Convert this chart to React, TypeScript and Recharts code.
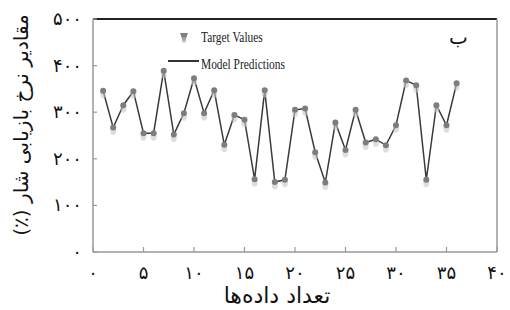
import { LineChart, Line, XAxis, YAxis, ReferenceLine, Label } from 'recharts';

const sampleNumbers = [
  1, 2, 3, 4, 5, 6, 7, 8, 9, 10, 11, 12, 13, 14, 15, 16, 17, 18,
  19, 20, 21, 22, 23, 24, 25, 26, 27, 28, 29, 30, 31, 32, 33, 34, 35, 36,
];
const targetValues = [
  346, 267, 315, 345, 255, 255, 389, 252, 298, 373, 298, 347, 230, 294, 284, 156, 347, 150,
  155, 305, 308, 214, 149, 278, 219, 305, 235, 242, 229, 272, 368, 358, 155, 315, 272, 362,
];
const modelPredictions = [
  346, 267, 315, 345, 255, 255, 389, 252, 298, 373, 298, 347, 230, 294, 284, 156, 347, 150,
  155, 305, 308, 214, 149, 278, 219, 305, 235, 242, 229, 272, 368, 358, 155, 315, 272, 362,
];
const xTicks = [0, 5, 10, 15, 20, 25, 30, 35, 40];
const yTicks = [0, 100, 200, 300, 400, 500];

const chartData = sampleNumbers.map((n, i) => ({
  n,
  target: targetValues[i],
  model: modelPredictions[i],
}));

const faDigits = '۰۱۲۳۴۵۶۷۸۹';
const toPersian = (v: number) => String(v).replace(/\d/g, (d) => faDigits[Number(d)]);

const faFont = '"DejaVu Sans", sans-serif';
const enFont = '"Liberation Serif", serif';

function XTick({ x, y, payload }: any) {
  return (
    <g>
      <line x1={x} y1={y - 8} x2={x} y2={y - 13} stroke="#999" strokeWidth={1.2} />
      <text x={x} y={y + 19} textAnchor="middle" fontFamily={faFont} fontSize={18} fill="#111">
        {toPersian(payload.value)}
      </text>
    </g>
  );
}

function YTick({ x, y, payload }: any) {
  return (
    <g>
      <line x1={x + 8} y1={y} x2={x + 12} y2={y} stroke="#999" strokeWidth={1.2} />
      <text
        x={x - 3}
        y={y + 6}
        textAnchor="end"
        fontFamily={faFont}
        fontSize={18}
        letterSpacing={1.5}
        fill="#111"
      >
        {toPersian(payload.value)}
      </text>
    </g>
  );
}

function TargetDot({ cx, cy }: any) {
  if (cx == null || cy == null) return null;
  return (
    <g>
      <ellipse cx={cx} cy={cy + 3} rx={3} ry={4.5} fill="#c8c8c8" opacity={0.6} />
      <circle cx={cx} cy={cy} r={3} fill="#7d7d7d" />
    </g>
  );
}

export default function App() {
  return (
    <div style={{ position: 'absolute', left: 0, top: 0, width: 510, height: 310, background: '#fff' }}>
      <LineChart
        width={510}
        height={310}
        data={chartData}
        margin={{ top: 19, right: 13, left: 0, bottom: 0 }}
      >
        <XAxis
          dataKey="n"
          type="number"
          domain={[0, 40]}
          ticks={xTicks}
          height={58}
          tickLine={false}
          axisLine={{ stroke: '#999', strokeWidth: 1.5 }}
          tick={<XTick />}
          interval={0}
        >
          <Label
            content={() => (
              <text
                x={277}
                y={303}
                textAnchor="middle"
                direction="rtl"
                fontFamily={faFont}
                fontSize={22}
                fill="#111"
              >
                تعداد داده‌ها
              </text>
            )}
          />
        </XAxis>
        <YAxis
          type="number"
          domain={[0, 500]}
          ticks={yTicks}
          width={93}
          tickLine={false}
          axisLine={{ stroke: '#999', strokeWidth: 1.5 }}
          tick={<YTick />}
          interval={0}
        >
          <Label
            content={() => (
              <text
                x={0}
                y={0}
                transform="translate(28 125) rotate(-90)"
                textAnchor="middle"
                direction="rtl"
                style={{ direction: 'rtl', unicodeBidi: 'plaintext' } as any}
                fontFamily={faFont}
                fontSize={20}
                fill="#111"
              >
                مقادیر نرخ بازیابی شار (٪)
              </text>
            )}
          />
        </YAxis>
        <ReferenceLine y={500} stroke="#222" strokeWidth={2} />
        <ReferenceLine x={40} stroke="#999" strokeWidth={1.5} />
        <Line
          dataKey="model"
          stroke="#3a3a3a"
          strokeWidth={1.5}
          dot={false}
          activeDot={false}
          isAnimationActive={false}
        />
        <Line
          dataKey="target"
          stroke="none"
          dot={<TargetDot />}
          activeDot={false}
          isAnimationActive={false}
        />
      </LineChart>
      <div style={{ position: 'absolute', left: 449, top: 25, fontFamily: faFont, fontSize: 20, color: '#111' }}>
        ب
      </div>
      <div style={{ position: 'absolute', left: 167, top: 27, fontFamily: enFont, fontSize: 15, color: '#222', lineHeight: '20px' }}>
        <div style={{ display: 'flex', alignItems: 'center', height: 20 }}>
          <svg width={34} height={14}>
            <path d="M13 3 L21 3 L18 11 L16 11 Z" fill="#808080" />
            <ellipse cx={17} cy={10} rx={2.5} ry={3} fill="#bbb" opacity={0.6} />
          </svg>
          <span style={{ display: 'inline-block', transform: 'scaleX(0.76)', transformOrigin: 'left center', whiteSpace: 'nowrap' }}>
            Target Values
          </span>
        </div>
        <div style={{ display: 'flex', alignItems: 'center', height: 20, marginTop: 7 }}>
          <svg width={34} height={14}>
            <line x1={1} y1={4} x2={32} y2={4} stroke="#333" strokeWidth={2} />
          </svg>
          <span style={{ display: 'inline-block', transform: 'scaleX(0.76)', transformOrigin: 'left center', whiteSpace: 'nowrap' }}>
            Model Predictions
          </span>
        </div>
      </div>
    </div>
  );
}
